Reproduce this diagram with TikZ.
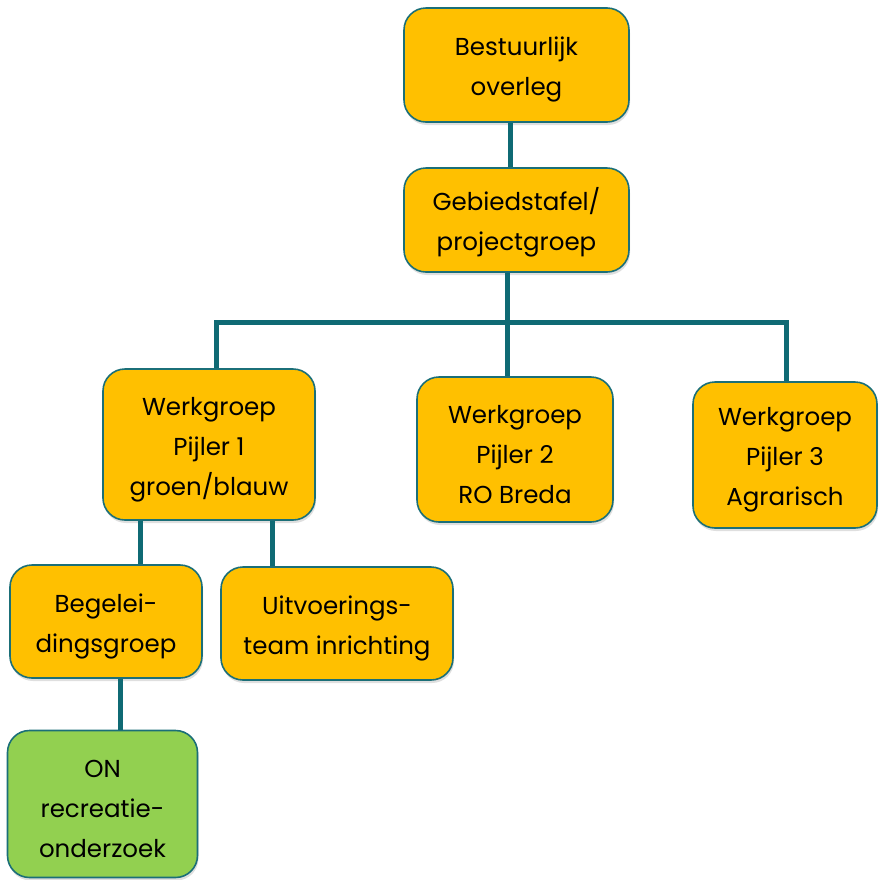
\documentclass[tikz,border=0pt]{standalone}
\usepackage{fontspec}
\setmainfont{Poppins}
\usetikzlibrary{shadows}
\definecolor{boxorange}{HTML}{FFC000}
\definecolor{boxgreen}{HTML}{92D050}
\definecolor{teal}{HTML}{1B6F78}
\definecolor{lineteal}{HTML}{0F6A74}
\newcommand\topstrut{\rule{0pt}{28pt}}
\begin{document}
\begin{tikzpicture}[x=1pt,y=-1pt,
  box/.style={draw=teal, line width=1.6pt, fill=boxorange, rounded corners=22pt,
    align=center, inner sep=0pt, font=\fontsize{24.5}{40}\selectfont,
    drop shadow={shadow xshift=1pt, shadow yshift=-3pt, opacity=0.25}},
  gbox/.style={box, fill=boxgreen},
  conn/.style={draw=lineteal, line width=5pt}]
\useasboundingbox (0,0) rectangle (880,879);
\node[box, minimum width=225pt, minimum height=114pt] (b1) at (516.5,65) {\topstrut Bestuurlijk\\overleg};
\node[box, minimum width=225pt, minimum height=104pt] (b2) at (516.5,220) {\topstrut Gebiedstafel/\\projectgroep};
\node[box, minimum width=212pt, minimum height=151pt] (p1) at (209,444.5) {\topstrut Werkgroep\\Pijler 1\\groen/blauw};
\node[box, minimum width=196pt, minimum height=145pt] (p2) at (515,449.5) {\topstrut Werkgroep\\Pijler 2\\RO Breda};
\node[box, minimum width=184pt, minimum height=146pt] (p3) at (785,455) {\topstrut Werkgroep\\Pijler 3\\Agrarisch};
\node[box, minimum width=192pt, minimum height=113pt] (bg) at (106,621.5) {\topstrut Begelei-\\dingsgroep};
\node[box, minimum width=232pt, minimum height=113pt] (ut) at (337,623.5) {\topstrut Uitvoerings-\\team inrichting};
\node[gbox, minimum width=190pt, minimum height=147pt] (on) at (102.5,804) {\topstrut ON\\recreatie-\\onderzoek};
\coordinate (jt) at (510,0);
\coordinate (jm) at (507,322);
\coordinate (jl) at (216,322);
\coordinate (jr) at (786,322);
\coordinate (ja) at (140,0);
\coordinate (jb) at (272,0);
\coordinate (jc) at (120,0);
\path[conn] (b1.south -| jt) -- (b2.north -| jt);
\path[conn] (b2.south -| jm) -- (p2.north -| jm);
\path[conn] (jl |- p1.north) -- (jl) -- (jr) -- (jr |- p3.north);
\path[conn] (p1.south -| ja) -- (bg.north -| ja);
\path[conn] (p1.south -| jb) -- (ut.north -| jb);
\path[conn] (bg.south -| jc) -- (on.north -| jc);
\end{tikzpicture}
\end{document}
